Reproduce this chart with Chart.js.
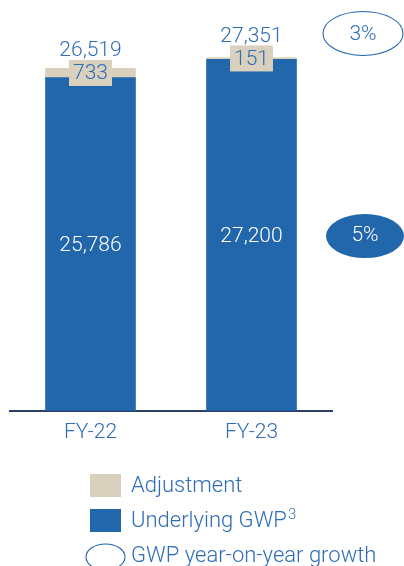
<!DOCTYPE html>
<html>
<head>
<meta charset="utf-8">
<script src="https://cdn.jsdelivr.net/npm/chart.js@4.4.0/dist/chart.umd.min.js"></script>
<style>
  html, body { margin: 0; padding: 0; background: #fff; }
</style>
</head>
<body>
<canvas id="gwp" width="404" height="566"></canvas>
<script>
// ── DATA ──────────────────────────────────────────────
const years      = ['FY-22', 'FY-23'];
const underlying = [25786, 27200];
const adjustment = [733, 151];
const totals     = [26519, 27351];
const growth     = ['3%', '5%'];   // total, underlying
const legendText = ['Adjustment', 'Underlying GWP', 'GWP year-on-year growth'];
const legendSup  = ['', '3', ''];

// ── STYLE ─────────────────────────────────────────────
const BLUE  = '#2266ab';
const TEXT  = '#2f6db5';
const BEIGE = '#d9d1bd';
const AXIS  = '#2c3d6a';
const FONT  = '300 21px Roboto, "Liberation Sans", sans-serif';
const LFONT = '300 22px Roboto, "Liberation Sans", sans-serif';
const SFONT = '300 15px Roboto, "Liberation Sans", sans-serif';

const fmt = v => v.toLocaleString('en-US');

// value labels, adjustment boxes and growth ovals
const labelPlugin = {
  id: 'valueLabels',
  afterDatasetsDraw(chart) {
    const ctx = chart.ctx;
    const mU = chart.getDatasetMeta(0);
    const mA = chart.getDatasetMeta(1);
    ctx.save();
    ctx.font = FONT;
    ctx.textAlign = 'center';
    ctx.textBaseline = 'middle';
    let lastTotalY = 0, lastUnderY = 0;
    years.forEach((_, i) => {
      const u = mU.data[i], a = mA.data[i];
      const uy = (u.y + u.base) / 2 + 2;
      ctx.fillStyle = '#fff';
      ctx.fillText(fmt(underlying[i]), u.x, uy);

      // beige box with adjustment value
      const ay = (a.y + a.base) / 2;
      const w = ctx.measureText(fmt(adjustment[i])).width + 8;
      const h = 26;
      ctx.fillStyle = BEIGE;
      ctx.fillRect(a.x - w / 2, ay - h / 2, w, h);
      ctx.fillStyle = TEXT;
      ctx.fillText(fmt(adjustment[i]), a.x, ay + 1);

      // total above
      const ty = ay - h / 2 - 9;
      ctx.fillText(fmt(totals[i]), a.x, ty);
      lastTotalY = ty; lastUnderY = uy;
    });

    // growth ovals to the right
    const cx = chart.chartArea.right + 31;
    ctx.lineWidth = 1.1;
    ctx.strokeStyle = BLUE;
    ctx.beginPath();
    ctx.ellipse(cx, lastTotalY - 3, 40, 22, 0, 0, Math.PI * 2);
    ctx.stroke();
    ctx.fillStyle = TEXT;
    ctx.fillText(growth[0], cx, lastTotalY - 2);

    ctx.fillStyle = BLUE;
    ctx.beginPath();
    ctx.ellipse(cx + 2, lastUnderY - 1, 39, 22, 0, 0, Math.PI * 2);
    ctx.fill();
    ctx.fillStyle = '#fff';
    ctx.fillText(growth[1], cx + 2, lastUnderY - 1);
    ctx.restore();
  }
};

// legend drawn below the axis
const legendPlugin = {
  id: 'customLegend',
  afterDraw(chart) {
    const ctx = chart.ctx;
    ctx.save();
    ctx.textAlign = 'left';
    ctx.textBaseline = 'middle';
    const rows = [486, 521, 556];
    ctx.fillStyle = BEIGE;
    ctx.fillRect(90, rows[0] - 12, 31, 23);
    ctx.fillStyle = BLUE;
    ctx.fillRect(90, rows[1] - 12, 31, 23);
    ctx.strokeStyle = BLUE;
    ctx.lineWidth = 1.1;
    ctx.beginPath();
    ctx.ellipse(105.5, rows[2] + 1, 19.5, 13, 0, 0, Math.PI * 2);
    ctx.stroke();
    ctx.fillStyle = TEXT;
    legendText.forEach((t, i) => {
      ctx.font = LFONT;
      ctx.fillText(t, 131, rows[i]);
      if (legendSup[i]) {
        const w = ctx.measureText(t).width;
        ctx.font = SFONT;
        ctx.fillText(legendSup[i], 131 + w + 1, rows[i] - 6);
      }
    });
    ctx.restore();
  }
};

new Chart(document.getElementById('gwp'), {
  type: 'bar',
  data: {
    labels: years,
    datasets: [
      { label: 'Underlying GWP', data: underlying, backgroundColor: BLUE, barThickness: 90 },
      { label: 'Adjustment',     data: adjustment, backgroundColor: BEIGE, barThickness: 90 }
    ]
  },
  options: {
    responsive: false,
    animation: false,
    layout: { padding: { left: 10, right: 72, top: 0, bottom: 112 } },
    plugins: { legend: { display: false }, tooltip: { enabled: false } },
    scales: {
      x: {
        stacked: true,
        grid: { display: false, drawTicks: false },
        border: { display: true, color: AXIS, width: 2 },
        ticks: { color: TEXT, font: { family: 'Roboto', weight: 300, size: 21 }, padding: 9 }
      },
      y: {
        stacked: true,
        display: false,
        min: 0,
        max: 31800
      }
    }
  },
  plugins: [labelPlugin, legendPlugin]
});
</script>
</body>
</html>
